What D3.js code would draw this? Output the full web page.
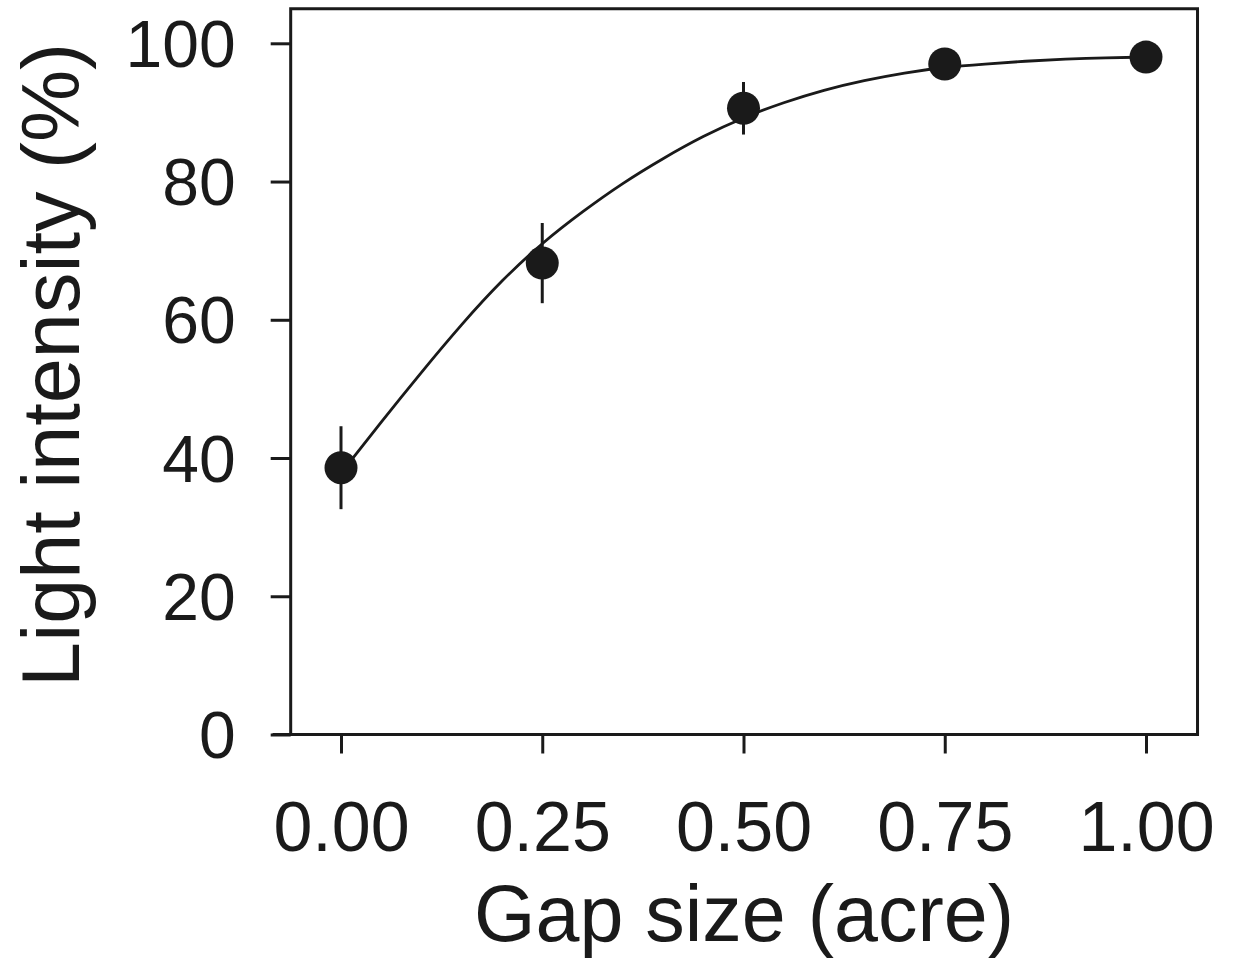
<!DOCTYPE html>
<html>
<head>
<meta charset="utf-8">
<script src="https://cdn.jsdelivr.net/npm/d3@7"></script>
<style>
  body { margin: 0; background: #ffffff; }
  text { font-family: Arial, "Liberation Sans", sans-serif; fill: #1a1a1a; }
</style>
</head>
<body>
<div id="chart"></div>
<script>
// Data ====================================================
// gap sizes (acre)
var gapSize = [0.00, 0.25, 0.50, 0.75, 1.00];
// mean light intensity (%)
var lightMean = [38.6, 68.2, 90.6, 97.0, 98.0];
// error (+/-)
var lightErr = [6.0, 5.8, 3.8, 1.5, 1.0];

// fitted curve
var curveX = [0.00, 0.05, 0.10, 0.15, 0.20, 0.25, 0.30, 0.35, 0.40, 0.45, 0.50,
              0.55, 0.60, 0.65, 0.70, 0.75, 0.80, 0.85, 0.90, 0.95, 1.00];
var curveY = [37.8, 45.2, 52.4, 59.3, 65.6, 71.0, 75.6, 79.7, 83.3, 86.5, 89.2,
              91.4, 93.2, 94.6, 95.7, 96.5, 97.0, 97.4, 97.7, 97.9, 98.0];

// tick labels
var xTicks = ["0.00", "0.25", "0.50", "0.75", "1.00"];
var yTicks = [0, 20, 40, 60, 80, 100];

// Canvas
var width = 1236;
var height = 961;
var ink = "#1a1a1a";

var svg = d3.select("#chart")
    .append("svg")
    .attr("width", width)
    .attr("height", height);

// Scales
var xScale = d3.scaleLinear()
    .domain([0, 1])
    .range([341, 1146]);

var yScale = d3.scaleLinear()
    .domain([0, 100])
    .range([734.5, 43.3]);

// frame limits (in data units)
var xLeft = -0.085, xAxisPos = -0.0625, xRight = 1.064, yTop = 105;

// Frame: left, top, right sides
svg.append("path")
    .attr("d", d3.line()([
        [xScale(xAxisPos), yScale(0)],
        [xScale(xAxisPos), yScale(yTop)],
        [xScale(xRight), yScale(yTop)],
        [xScale(xRight), yScale(0)]
    ]))
    .attr("fill", "none")
    .attr("stroke", ink)
    .attr("stroke-width", 3)
    .attr("stroke-linejoin", "miter");

// bottom axis line (runs past the left axis)
svg.append("line")
    .attr("x1", xScale(xLeft))
    .attr("x2", xScale(xRight) + 1.5)
    .attr("y1", yScale(0))
    .attr("y2", yScale(0))
    .attr("stroke", ink)
    .attr("stroke-width", 3);

// x axis ticks + labels
var xAxis = d3.axisBottom(xScale)
    .tickValues(gapSize)
    .tickFormat(function(d, i) { return xTicks[i]; })
    .tickSize(19)
    .tickPadding(48);

var gx = svg.append("g")
    .attr("transform", "translate(0," + yScale(0) + ")")
    .call(xAxis);
gx.select(".domain").remove();
gx.selectAll(".tick line").attr("stroke", ink).attr("stroke-width", 3);
gx.selectAll(".tick text")
    .attr("font-size", 70)
    .attr("fill", ink);

// y axis ticks + labels
var yAxis = d3.axisLeft(yScale)
    .tickValues(yTicks)
    .tickSize(20)
    .tickPadding(35);

var gy = svg.append("g")
    .attr("transform", "translate(" + xScale(xAxisPos) + ",0)")
    .call(yAxis);
gy.select(".domain").remove();
gy.selectAll(".tick line").attr("stroke", ink).attr("stroke-width", 3);
gy.selectAll(".tick text")
    .attr("font-size", 66)
    .attr("dy", "0.35em")
    .attr("fill", ink);

// Axis titles
svg.append("text")
    .attr("x", (xScale(xLeft) + xScale(xRight)) / 2 + 9)
    .attr("y", 941)
    .attr("text-anchor", "middle")
    .attr("font-size", 79)
    .text("Gap size (acre)");

svg.append("text")
    .attr("transform", "translate(79," + 365 + ")rotate(-90)")
    .attr("text-anchor", "middle")
    .attr("font-size", 81)
    .text("Light intensity (%)");

// Fitted curve
var curvePts = curveX.map(function(x, i) { return [x, curveY[i]]; });
svg.append("path")
    .datum(curvePts)
    .attr("fill", "none")
    .attr("stroke", ink)
    .attr("stroke-width", 2.8)
    .attr("d", d3.line()
        .x(function(d) { return xScale(d[0]); })
        .y(function(d) { return yScale(d[1]); })
        .curve(d3.curveNatural));

// Error bars
svg.selectAll(".errBar")
    .data(gapSize)
    .enter()
    .append("line")
    .attr("class", "errBar")
    .attr("x1", function(d) { return xScale(d); })
    .attr("x2", function(d) { return xScale(d); })
    .attr("y1", function(d, i) { return yScale(lightMean[i] + lightErr[i]); })
    .attr("y2", function(d, i) { return yScale(lightMean[i] - lightErr[i]); })
    .attr("stroke", ink)
    .attr("stroke-width", 3);

// Points
svg.selectAll(".dot")
    .data(gapSize)
    .enter()
    .append("circle")
    .attr("class", "dot")
    .attr("cx", function(d) { return xScale(d); })
    .attr("cy", function(d, i) { return yScale(lightMean[i]); })
    .attr("r", 16.5)
    .attr("fill", ink);
</script>
</body>
</html>
